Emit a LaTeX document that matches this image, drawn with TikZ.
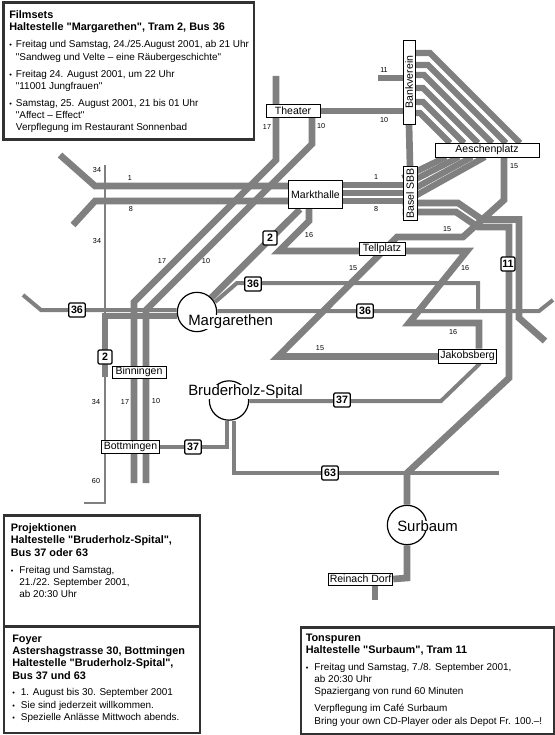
\documentclass[tikz,border=0pt]{standalone}
\usepackage{fontspec}
\setmainfont[Ligatures=TeXOff]{Liberation Sans}
\usepackage{tikz}
\usetikzlibrary{calc, backgrounds}
\definecolor{gleis}{RGB}{128,128,128}
\definecolor{rahmen}{RGB}{50,50,50}
\newcommand{\pkt}[1][5pt]{\makebox[#1][l]{\fontsize{5.5}{5.5}\selectfont •}}
\newcommand{\ein}[1][5pt]{\hspace*{#1}}
\newcommand{\kopf}[1]{{\bfseries\fontsize{8.15}{9.2}\selectfont #1}}

\begin{document}
\begin{tikzpicture}[
  x=0.75pt, y=-0.75pt,
  tram/.style={draw=gleis, line width=5pt},
  buendel/.style={draw=gleis, line width=4.6pt},
  bus/.style={draw=gleis, line width=3pt},
  duenn/.style={draw=gleis, line width=2.2pt},
  halt/.style={rectangle, draw=black, fill=white, line width=0.6pt, inner sep=0pt,
               font=\fontsize{7.9}{8}\selectfont},
  linie/.style={rectangle, rounded corners=1pt, draw=black, fill=white, line width=0.9pt, inner sep=0pt,
                minimum width=12.5pt, minimum height=10.5pt, font=\bfseries\fontsize{8}{8}\selectfont},
  nummer/.style={inner sep=0pt, font=\fontsize{5.4}{6}\selectfont},
  kreis/.style={circle, draw=black, fill=white, line width=0.9pt, minimum size=29.5pt, inner sep=0pt},
  gross/.style={fill=white, inner sep=0pt, font=\fontsize{11.2}{12}\selectfont},
  panel/.style={rectangle, draw=rahmen, fill=white, line width=1.9pt, anchor=north west, inner sep=0pt},
  paneltext/.style={anchor=north west, align=left, inner sep=0pt, font=\fontsize{7.45}{9.2}\selectfont}]

  \useasboundingbox (0,0) rectangle (554,735);

  % Haltestellen
  \node[halt, minimum width=40.5pt, minimum height=9.8pt] (theater) at (293,110.5) {Theater};
  \node[halt, rotate=90, minimum width=63pt, minimum height=9pt] (bankverein) at (409,82) {Bankverein};
  \node[halt, rotate=90, minimum width=40pt, minimum height=10.5pt] (baselsbb) at (410,193.5) {Basel SBB};
  \node[halt, minimum width=78pt, minimum height=10.5pt] (aeschen) at (487,150) {Aeschenplatz};
  \node[halt, minimum width=41pt, minimum height=21.5pt] (markthalle) at (315.5,194.5) {Markthalle};
  \node[halt, minimum width=34.5pt, minimum height=9.8pt] (tellplatz) at (382,248.5) {Tellplatz};
  \node[halt, minimum width=44pt, minimum height=10.5pt] (jakobsberg) at (467.5,356) {Jakobsberg};
  \node[halt, minimum width=40.5pt, minimum height=9pt] (binningen) at (139,372) {Binningen};
  \node[halt, minimum width=44pt, minimum height=9.8pt] (bottmingen) at (130.5,446.5) {Bottmingen};
  \node[halt, minimum width=48.5pt, minimum height=9pt] (reinach) at (360.5,579) {Reinach Dorf};

  % Knoten mit Kreis
  \node[kreis] (margarethen) at (197,312) {};
  \node[gross, anchor=west] (margarethentext) at (188,322) {Margarethen};
  \node[kreis] (bruderholz) at (229,400.5) {};
  \node[gross, anchor=west] (bruderholztext) at (188,392) {Bruderholz-Spital};
  \node[kreis] (surbaum) at (407,525) {};
  \node[gross, anchor=west] (surbaumtext) at (397,526) {Surbaum};

  % Liniennummern
  \node[linie] (l36a) at (77,310) {36};
  \node[linie] (l36b) at (253,284) {36};
  \node[linie] (l36c) at (365,311) {36};
  \node[linie, minimum width=10.5pt] (l2a) at (105,357) {2};
  \node[linie, minimum width=10.5pt] (l2b) at (270,238) {2};
  \node[linie] (l37a) at (193,447) {37};
  \node[linie] (l37b) at (342,400) {37};
  \node[linie] (l63) at (330,473) {63};
  \node[linie, minimum width=10.5pt] (l11) at (508,264) {11};

  % Gleise hinter den Haltestellen
  \begin{scope}[on background layer]
    \draw[tram] (markthalle.west |- 0,186) -- (95,186) -- (60,155);
    \draw[tram] (markthalle.west |- 0,201) -- (95,201) -- (73,225);
    \draw[buendel] (markthalle.east |- 0,185) -- (baselsbb.south |- 0,185);
    \draw[buendel] (markthalle.east |- 0,193) -- (baselsbb.south |- 0,193);
    \draw[buendel] (markthalle.east |- 0,201) -- (baselsbb.south |- 0,201);
    \draw[tram] (276,76) -- (276,160) -- (134,302) -- (134,483);
    \draw[tram] (theater.east |- 0,111) -- (bankverein.south |- 0,111);
    \draw[tram] (312,111) -- (312,144) -- (146,310) -- (146,483);
    \draw[tram] (378,78) -- (bankverein.south |- 0,78);
    \draw[tram] (bankverein.west) -- (baselsbb.east);
    % Buendel Bankverein - Aeschenplatz
    \draw[buendel] (bankverein.south |- 0,53) -- (430,53) -- (520,143);
    \draw[buendel] (bankverein.south |- 0,65) -- (428,65) -- (506,143);
    \draw[buendel] (bankverein.south |- 0,75) -- (424,75) -- (492,143);
    \draw[buendel] (bankverein.south |- 0,88) -- (423,88) -- (478,143);
    \draw[buendel] (bankverein.south |- 0,102) -- (423,102) -- (464,143);
    \draw[buendel] (bankverein.south |- 0,113) -- (420,113) -- (450,143);
    % Buendel Aeschenplatz - Basel SBB
    \draw[buendel] (446,157) -- (baselsbb.north |- 0,178);
    \draw[buendel] (459,157) -- (baselsbb.north |- 0,186);
    \draw[buendel] (472,157) -- (baselsbb.north |- 0,195);
    \draw[buendel] (485,157) -- (baselsbb.north |- 0,203);
    % 11
    \draw[tram] (baselsbb.north |- 0,203) -- (458,203) -- (482,219.5) -- (519,219.5) -- (519,318) -- (545,341);
    \draw[tram] (baselsbb.north |- 0,212) -- (456,212) -- (478,227) -- (509,227) -- (509,378) -- (407,473) -- (surbaum);
    \draw[tram] (surbaum) -- (407,578) -- (reinach.east);
    \draw[tram] (375,578) -- (375,600);
    % 15
    \draw[tram] (aeschen.south -| 504,0) -- (504,200) -- (463,237) -- (397,237) -- (278,356.5) -- (jakobsberg.west |- 0,356.5);
    % 16
    \draw[tram] (markthalle.south -| 309,0) -- (309,221) -- (279,251) -- (467,251) -- (409,323) -- (479,323) -- (jakobsberg.north -| 479,0);
    % 2
    \draw[tram] (markthalle.south -| 300,0) -- (margarethen);
    \draw[tram] (margarethen.west |- 0,316) -- (105,316) -- (105,377);
    % Buslinien
    \draw[bus] (23,295) -- (41,310) -- (margarethen.west |- 0,310);
    \draw[bus] (margarethen.east |- 0,311) -- (539,311) -- (553,300);
    \draw[bus] (215,302) -- (237,283) -- (478,283) -- (478,311);
    \draw[bus] (bruderholz.east |- 0,401) -- (441,401) -- (jakobsberg.south -| 480,0);
    \draw[bus] (bruderholz.south -| 227,0) -- (227,447) -- (bottmingen.east |- 0,447);
    \draw[bus] (bruderholz.south -| 234,0) -- (234,473) -- (499,473);
    \draw[duenn] (105,165) -- (105,503) -- (84,503);
  \end{scope}

  % kleine Zahlen
  \node[nummer] (n34a) at (97,170) {34};
  \node[nummer] (n1a) at (130,178) {1};
  \node[nummer] (n8a) at (131,209) {8};
  \node[nummer] (n34b) at (97,241) {34};
  \node[nummer] (n17a) at (267,127) {17};
  \node[nummer] (n10a) at (321,126) {10};
  \node[nummer] (n10b) at (384,120) {10};
  \node[nummer] (n11) at (384,70) {11};
  \node[nummer] (n15a) at (514,166) {15};
  \node[nummer] (n1b) at (376,177) {1};
  \node[nummer] (n8b) at (376,209) {8};
  \node[nummer] (n16a) at (309,235) {16};
  \node[nummer] (n15b) at (447,229) {15};
  \node[nummer] (n15c) at (353,268) {15};
  \node[nummer] (n16b) at (465,268) {16};
  \node[nummer] (n17b) at (162,261) {17};
  \node[nummer] (n10c) at (206,261) {10};
  \node[nummer] (n16c) at (453,332) {16};
  \node[nummer] (n15d) at (320,348) {15};
  \node[nummer] (n34c) at (96,402) {34};
  \node[nummer] (n17c) at (125,402) {17};
  \node[nummer] (n10d) at (156,401) {10};
  \node[nummer] (n60) at (96,481) {60};

  % Kaesten
  \node[panel, minimum width=188pt, minimum height=102.5pt] (filmsets) at (2,1.5) {};
  \node[paneltext] (filmsetstext) at ($(filmsets.north west)+(7,9)$) {%
    \kopf{Filmsets}\\
    \kopf{Haltestelle "Margarethen", Tram 2, Bus 36}\\[3.5pt]
    \pkt Freitag und Samstag, 24./25.August 2001, ab 21 Uhr\\
    \ein"Sandweg und Velte – eine Räubergeschichte"\\[3.5pt]
    \pkt Freitag 24. August 2001, um 22 Uhr\\
    \ein"11001 Jungfrauen"\\[3.5pt]
    \pkt Samstag, 25. August 2001, 21 bis 01 Uhr\\
    \ein"Affect – Effect"\\
    \ein Verpflegung im Restaurant Sonnenbad};

  \node[panel, minimum width=147pt, minimum height=83pt] (projektionen) at (2.5,514) {};
  \node[paneltext] (projektionentext) at ($(projektionen.north west)+(8,9.5)$) {%
    \kopf{Projektionen}\\
    \kopf{Haltestelle "Bruderholz-Spital",}\\
    \kopf{Bus 37 oder 63}\\[3.5pt]
    \pkt[6.5pt]Freitag und Samstag,\\
    \ein[6.5pt]21./22. September 2001,\\
    \ein[6.5pt]ab 20:30 Uhr};

  \node[panel, minimum width=147pt, minimum height=80pt] (foyer) at (2.5,625) {};
  \node[paneltext] (foyertext) at ($(foyer.north west)+(9.5,9.5)$) {%
    \kopf{Foyer}\\
    \kopf{Astershagstrasse 30, Bottmingen}\\
    \kopf{Haltestelle "Bruderholz-Spital",}\\
    \kopf{Bus 37 und 63}\\[3.5pt]
    \pkt[6.5pt]1. August bis 30. September 2001\\
    \pkt[6.5pt]Sie sind jederzeit willkommen.\\
    \pkt[6.5pt]Spezielle Anlässe Mittwoch abends.};

  \node[panel, minimum width=190pt, minimum height=80.5pt] (tonspuren) at (299.5,626) {};
  \node[paneltext] (tonspurentext) at ($(tonspuren.north west)+(6,7.5)$) {%
    \kopf{Tonspuren}\\
    \kopf{Haltestelle "Surbaum", Tram 11}\\[3.5pt]
    \pkt[6.5pt]Freitag und Samstag, 7./8. September 2001,\\
    \ein[6.5pt]ab 20:30 Uhr\\
    \ein[6.5pt]Spaziergang von rund 60 Minuten\\[3.5pt]
    \ein[6.5pt]Verpflegung im Café Surbaum\\
    \ein[6.5pt]Bring your own CD-Player oder als Depot Fr. 100.–!};
\end{tikzpicture}
\end{document}
